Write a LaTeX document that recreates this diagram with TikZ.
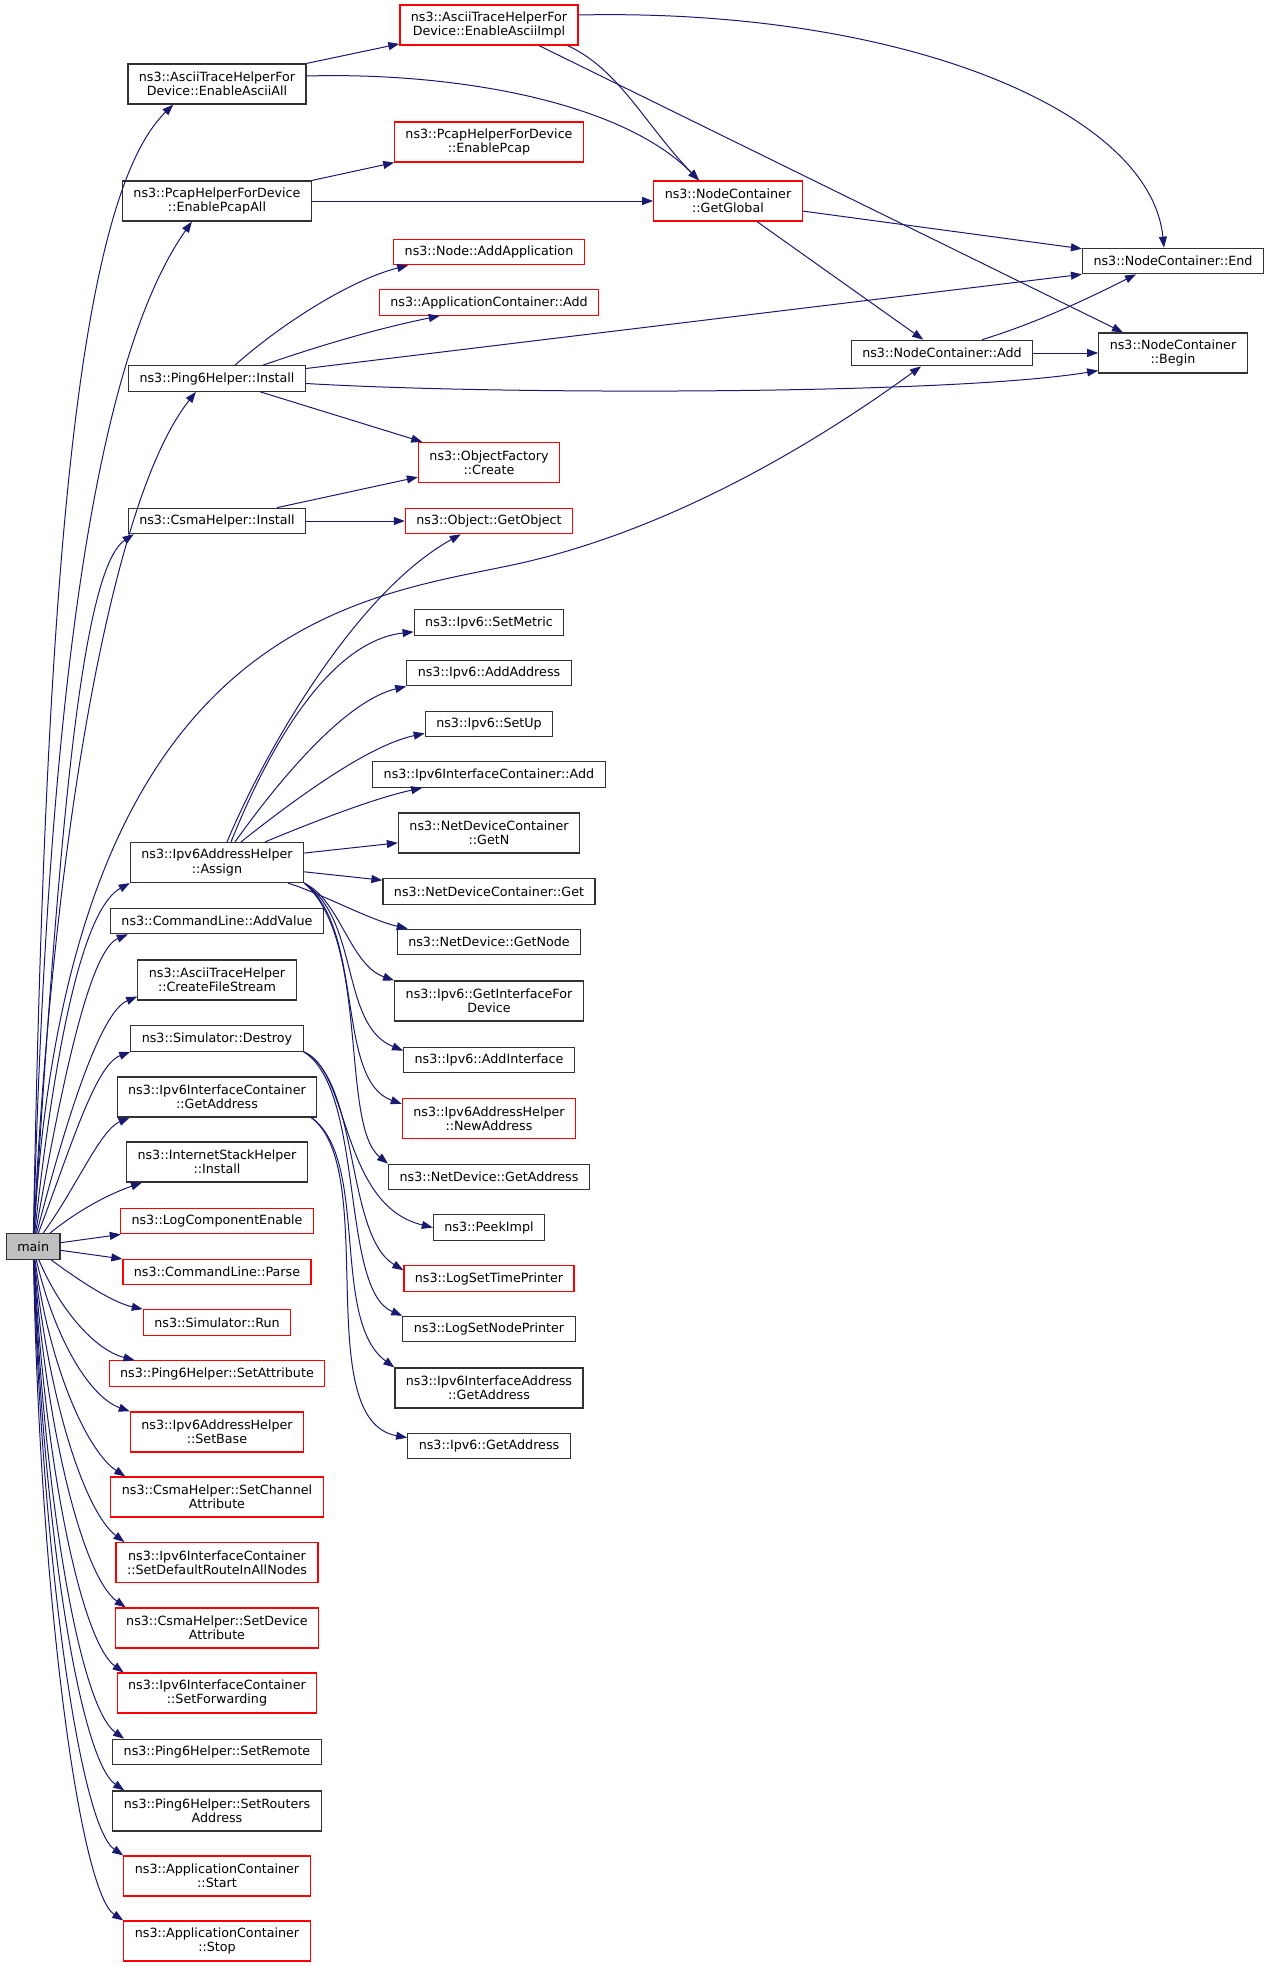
\documentclass[tikz,border=0pt]{standalone}
\usepackage{fontspec}
\setmainfont{DejaVu Sans}
\usetikzlibrary{arrows.meta,calc}

\definecolor{edgeblue}{RGB}{25,25,112}
\definecolor{fnborder}{RGB}{50,50,50}
\newcommand{\fnfont}{\fontsize{12.7}{14.3}\selectfont}

\tikzset{
  fn/.style={draw=fnborder, fill=white, line width=1.2pt, minimum height=25.5pt,
    inner xsep=11pt, inner ysep=0pt, align=center, font=\fnfont},
  fnred/.style={fn, draw=red},
  two/.style={minimum height=40pt},
  call/.style={draw=edgeblue, line width=1pt, -{Triangle[length=11pt,width=8pt]}}
}

\begin{document}
\begin{tikzpicture}[x=1pt,y=1pt,yscale=-1,xscale=1]
\useasboundingbox (0,0) rectangle (1269,1967);

% caller
\node[fn, fill=gray!50] (main) at (33.2,1246.5) {main};

% left column
\node[fn, two] (asciiAll) at (217,84) {ns3::AsciiTraceHelperFor\\Device::EnableAsciiAll};
\node[fn, two] (pcapAll) at (217,201) {ns3::PcapHelperForDevice\\::EnablePcapAll};
\node[fn] (pingInstall) at (217,378.5) {ns3::Ping6Helper::Install};
\node[fn] (csmaInstall) at (217,521) {ns3::CsmaHelper::Install};
\node[fn, two] (assign) at (217,862.5) {ns3::Ipv6AddressHelper\\::Assign};
\node[fn] (addValue) at (217,921) {ns3::CommandLine::AddValue};
\node[fn, two] (createFS) at (217,980) {ns3::AsciiTraceHelper\\::CreateFileStream};
\node[fn] (destroy) at (217,1038.5) {ns3::Simulator::Destroy};
\node[fn, two] (ifcGetAddr) at (217,1097) {ns3::Ipv6InterfaceContainer\\::GetAddress};
\node[fn, two] (istack) at (217,1162) {ns3::InternetStackHelper\\::Install};
\node[fnred] (logComp) at (217,1221) {ns3::LogComponentEnable};
\node[fnred] (clParse) at (217,1272) {ns3::CommandLine::Parse};
\node[fnred] (simRun) at (217,1322.5) {ns3::Simulator::Run};
\node[fnred] (setAttr) at (217,1373.5) {ns3::Ping6Helper::SetAttribute};
\node[fnred, two] (setBase) at (217,1432) {ns3::Ipv6AddressHelper\\::SetBase};
\node[fnred, two] (setChan) at (217,1497) {ns3::CsmaHelper::SetChannel\\Attribute};
\node[fnred, two] (setDefRoute) at (217,1562.7) {ns3::Ipv6InterfaceContainer\\::SetDefaultRouteInAllNodes};
\node[fnred, two] (setDevAttr) at (217,1628) {ns3::CsmaHelper::SetDevice\\Attribute};
\node[fnred, two] (setFwd) at (217,1693) {ns3::Ipv6InterfaceContainer\\::SetForwarding};
\node[fn] (setRemote) at (217,1752) {ns3::Ping6Helper::SetRemote};
\node[fn, two] (setRouters) at (217,1811) {ns3::Ping6Helper::SetRouters\\Address};
\node[fnred, two] (appStart) at (217,1876) {ns3::ApplicationContainer\\::Start};
\node[fnred, two] (appStop) at (217,1941) {ns3::ApplicationContainer\\::Stop};

% middle column
\node[fnred, two] (asciiImpl) at (489,25) {ns3::AsciiTraceHelperFor\\Device::EnableAsciiImpl};
\node[fnred, two] (pcap) at (489,142) {ns3::PcapHelperForDevice\\::EnablePcap};
\node[fnred] (addApp) at (489,252) {ns3::Node::AddApplication};
\node[fnred] (appAdd) at (489,302.5) {ns3::ApplicationContainer::Add};
\node[fnred, two] (ofCreate) at (489,462.5) {ns3::ObjectFactory\\::Create};
\node[fnred] (getObject) at (489,521) {ns3::Object::GetObject};
\node[fn] (setMetric) at (489,622.5) {ns3::Ipv6::SetMetric};
\node[fn] (addAddress) at (489,673) {ns3::Ipv6::AddAddress};
\node[fn] (setUp) at (489,724) {ns3::Ipv6::SetUp};
\node[fn] (ifcAdd) at (489,774.5) {ns3::Ipv6InterfaceContainer::Add};
\node[fn, two] (getN) at (489,833) {ns3::NetDeviceContainer\\::GetN};
\node[fn] (ndcGet) at (489,891.5) {ns3::NetDeviceContainer::Get};
\node[fn] (getNode) at (489,942) {ns3::NetDevice::GetNode};
\node[fn, two] (getIfDev) at (489,1001) {ns3::Ipv6::GetInterfaceFor\\Device};
\node[fn] (addIf) at (489,1060) {ns3::Ipv6::AddInterface};
\node[fnred, two] (newAddr) at (489,1118.5) {ns3::Ipv6AddressHelper\\::NewAddress};
\node[fn] (ndGetAddr) at (489,1177) {ns3::NetDevice::GetAddress};
\node[fn] (peekImpl) at (489,1227.5) {ns3::PeekImpl};
\node[fnred] (logTime) at (489,1278.5) {ns3::LogSetTimePrinter};
\node[fn] (logNode) at (489,1329) {ns3::LogSetNodePrinter};
\node[fn, two] (ifaGetAddr) at (489,1388) {ns3::Ipv6InterfaceAddress\\::GetAddress};
\node[fn] (ipGetAddr) at (489,1446) {ns3::Ipv6::GetAddress};

% right part
\node[fnred, two] (getGlobal) at (728,201) {ns3::NodeContainer\\::GetGlobal};
\node[fn] (ncAdd) at (942,353) {ns3::NodeContainer::Add};
\node[fn] (ncEnd) at (1173,261) {ns3::NodeContainer::End};
\node[fn, two] (ncBegin) at (1173,353) {ns3::NodeContainer\\::Begin};

% calls from main
\draw[call] (main) .. controls (45,600) and (75,200) .. ([xshift=46]asciiAll.south west);
\draw[call] (main) .. controls (45,800) and (80,380) .. ([xshift=70]pcapAll.south west);
\draw[call] (main) .. controls (52,850) and (110,500) .. ([xshift=68]pingInstall.south west);
\draw[call] (main) .. controls (58,850) and (80,570) .. ([xshift=6]csmaInstall.south west);
\draw[call] (main) .. controls (70,600) and (380,597) .. (530,561) .. controls (680,525) and (820,440) .. ([xshift=-21]ncAdd.south);
\draw[call] (main) .. controls (60,1000) and (90,905) .. (assign.south west);
\draw[call] (main) .. controls (62,1080) and (90,950) .. ([xshift=18]addValue.south west);
\draw[call] (main) .. controls (66,1120) and (100,1012) .. ($(createFS.south west)+(0,-4)$);
\draw[call] (main) .. controls (70,1150) and (95,1065) .. (destroy.south west);
\draw[call] (main) .. controls (75,1190) and (100,1130) .. ([xshift=13]ifcGetAddr.south west);
\draw[call] (main) .. controls (85,1205) and (115,1192) .. ([xshift=16]istack.south west);
\draw[call] (main) -- (logComp);
\draw[call] (main) -- (clParse);
\draw[call] (main) .. controls (85,1285) and (115,1303) .. (simRun.north west);
\draw[call] (main) .. controls (60,1310) and (95,1350) .. ([xshift=26]setAttr.north west);
\draw[call] (main) .. controls (55,1340) and (90,1397) .. (setBase.north west);
\draw[call] (main) .. controls (50,1370) and (88,1452) .. ([xshift=15]setChan.north west);
\draw[call] (main) .. controls (48,1400) and (85,1512) .. ([xshift=9]setDefRoute.north west);
\draw[call] (main) .. controls (46,1430) and (83,1577) .. ([xshift=11]setDevAttr.north west);
\draw[call] (main) .. controls (45,1470) and (82,1642) .. ([xshift=7]setFwd.north west);
\draw[call] (main) .. controls (44,1500) and (80,1707) .. ([xshift=12]setRemote.north west);
\draw[call] (main) .. controls (43,1530) and (80,1760) .. ([xshift=12]setRouters.north west);
\draw[call] (main) .. controls (42,1560) and (80,1826) .. (appStart.north west);
\draw[call] (main) .. controls (40,1600) and (80,1892) .. (appStop.north west);

% trace helpers
\draw[call] (asciiAll.north east) -- (asciiImpl);
\draw[call] ($(asciiAll.east)+(0,-8)$) .. controls (450,72) and (620,100) .. ([xshift=-29]getGlobal.north);
\draw[call] ([xshift=-11]asciiImpl.south east) .. controls (620,70) and (645,125) .. ([xshift=-29]getGlobal.north);
\draw[call] ($(asciiImpl.east)+(0,-10)$) .. controls (900,8) and (1150,110) .. ([xshift=-9]ncEnd.north);
\draw[call] ([xshift=50]asciiImpl.south) -- ([xshift=-50]ncBegin.north);
\draw[call] (pcapAll.north east) -- (pcap);
\draw[call] (pcapAll) -- (getGlobal);

% node container
\draw[call] (getGlobal) -- (ncEnd);
\draw[call] (getGlobal) -- (ncAdd);
\draw[call] ([xshift=40]ncAdd.north) .. controls (1040,322) and (1095,295) .. ([xshift=-37]ncEnd.south);
\draw[call] (ncAdd) -- (ncBegin);

% ping6 and csma install
\draw[call] ([xshift=18]pingInstall.north) .. controls (280,325) and (350,280) .. ([xshift=15]addApp.south west);
\draw[call] ([xshift=46]pingInstall.north) .. controls (330,342) and (385,327) .. ([xshift=61]appAdd.south west);
\draw[call] ($(pingInstall.east)+(0,-10)$) -- (ncEnd.south west);
\draw[call] ($(pingInstall.east)+(0,5)$) .. controls (500,395) and (950,395) .. ($(ncBegin.south west)+(0,-3)$);
\draw[call] (pingInstall) -- (ofCreate);
\draw[call] ([xshift=60]csmaInstall.north) -- ($(ofCreate.south west)+(0,-6)$);
\draw[call] (csmaInstall) -- (getObject);

% address helper
\draw[call] ([xshift=10]assign.north) .. controls (270,740) and (360,590) .. ([xshift=56]getObject.south west);
\draw[call] ([xshift=14]assign.north) .. controls (280,720) and (340,640) .. ($(setMetric.south west)+(0,-4)$);
\draw[call] ([xshift=18]assign.north) .. controls (290,765) and (350,700) .. (addAddress.south west);
\draw[call] ([xshift=24]assign.north) .. controls (300,795) and (370,745) .. ($(setUp.south west)+(0,-4)$);
\draw[call] ([xshift=48]assign.north) .. controls (330,815) and (380,797) .. ([xshift=50]ifcAdd.south west);
\draw[call] (assign) -- (getN);
\draw[call] (assign) -- (ndcGet);
\draw[call] ([xshift=71]assign.south) .. controls (320,893) and (370,920) .. ([xshift=11]getNode.north west);
\draw[call] (assign.south east) .. controls (340,900) and (350,965) .. (getIfDev.north west);
\draw[call] (assign.south east) .. controls (360,920) and (340,1025) .. ($(addIf.north west)+(0,4)$);
\draw[call] (assign.south east) .. controls (365,930) and (335,1080) .. ($(newAddr.north west)+(0,6)$);
\draw[call] (assign.south east) .. controls (370,940) and (340,1125) .. (ndGetAddr.north west);

% simulator and interface container
\draw[call] (destroy.south east) .. controls (350,1070) and (340,1205) .. (peekImpl.west);
\draw[call] (destroy.south east) .. controls (360,1080) and (345,1235) .. ($(logTime.north west)+(0,5)$);
\draw[call] (destroy.south east) .. controls (365,1090) and (340,1290) .. (logNode.north west);
\draw[call] ([xshift=-6]ifcGetAddr.south east) .. controls (370,1160) and (330,1320) .. (ifaGetAddr.north west);
\draw[call] ([xshift=-6]ifcGetAddr.south east) .. controls (380,1170) and (310,1420) .. ($(ipGetAddr.north west)+(0,5)$);

\end{tikzpicture}
\end{document}
